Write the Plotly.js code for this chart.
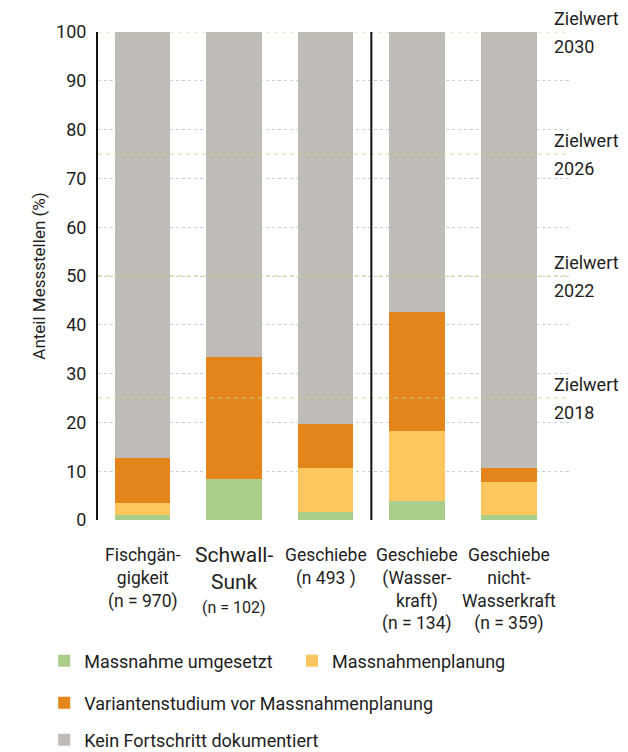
<!DOCTYPE html>
<html>
<head>
<meta charset="utf-8">
<script src="https://cdn.plot.ly/plotly-3.0.1.min.js"></script>
<style>html,body{margin:0;padding:0;background:#fff;}#chart{width:628px;height:752px;}</style>
</head>
<body>
<div id="chart"></div>
<script>
const categories = ["Fischgängigkeit", "Schwall-Sunk", "Geschiebe", "Geschiebe (Wasserkraft)", "Geschiebe nicht-Wasserkraft"];
const tickLabels = [
  "Fischgän-<br>gigkeit<br>(n = 970)",
  "Schwall-<br>Sunk",
  "Geschiebe<br>(n 493 )",
  "Geschiebe<br>(Wasser-<br>kraft)<br>(n = 134)",
  "Geschiebe<br>nicht-<br>Wasserkraft<br>(n = 359)"
];
const schwallCount = "(n = 102)";
const seriesNames = ["Massnahme umgesetzt", "Massnahmenplanung", "Variantenstudium vor Massnahmenplanung", "Kein Fortschritt dokumentiert"];
const umgesetzt = [1.1, 8.4, 1.6, 3.8, 1.1];
const planung = [2.3, 0, 9.1, 14.4, 6.7];
const variantenstudium = [9.3, 25.0, 8.9, 24.4, 2.9];
const keinFortschritt = [87.3, 66.6, 80.4, 57.4, 89.3];
const zielwerte = [100, 75, 50, 25];
const zielJahre = ["2030", "2026", "2022", "2018"];
const yTicks = [0, 10, 20, 30, 40, 50, 60, 70, 80, 90, 100];

const colors = ["#aacd8c", "#fdc65e", "#e3851a", "#bfbbb7"];
const seriesValues = [umgesetzt, planung, variantenstudium, keinFortschritt];
const legendIds = ["legend", "legend2", "legend3", "legend4"];
const FONT = "Roboto, 'Liberation Sans', sans-serif";
const TXT = "#1e1e1e";

const traces = seriesValues.map((vals, i) => ({
  type: "bar",
  x: categories,
  y: vals,
  name: seriesNames[i],
  marker: {color: colors[i], line: {width: 0}},
  legend: legendIds[i],
  hoverinfo: "skip"
}));

const shapes = zielwerte.map(v => ({
  type: "line", xref: "paper", yref: "y", x0: 0, x1: 1, y0: v, y1: v,
  line: {color: "rgba(200,212,140,0.95)", width: 1.2, dash: "4px,4px"},
  layer: "above"
}));
shapes.push({
  type: "line", xref: "x", yref: "y", x0: 2.5, x1: 2.5, y0: 0, y1: 100,
  line: {color: "#111", width: 2}, layer: "above"
});

const annotations = [];
zielwerte.forEach((v, i) => {
  annotations.push({xref: "paper", yref: "y", x: 0.962, y: v, xanchor: "left", yanchor: "middle",
    yshift: 14, text: "Zielwert", showarrow: false, font: {family: FONT, size: 18, color: TXT}});
  annotations.push({xref: "paper", yref: "y", x: 0.962, y: v, xanchor: "left", yanchor: "middle",
    yshift: -14, text: zielJahre[i], showarrow: false, font: {family: FONT, size: 18, color: TXT}});
});
categories.forEach((c, i) => {
  const big = i === 1;
  annotations.push({xref: "x", yref: "paper", x: c, y: 0, xanchor: "center", yanchor: "top",
    yshift: big ? -21 : -23, text: tickLabels[i], showarrow: false, align: "center",
    font: {family: FONT, size: big ? 21 : 17.5, color: TXT}});
});
annotations.push({xref: "x", yref: "paper", x: categories[1], y: 0, xanchor: "center", yanchor: "top",
  yshift: -76, text: schwallCount, showarrow: false, font: {family: FONT, size: 16, color: TXT}});

const legFont = {family: FONT, size: 18, color: TXT};
const legendBase = {orientation: "h", xanchor: "left", yanchor: "middle", font: legFont,
  bgcolor: "rgba(0,0,0,0)", borderwidth: 0, traceorder: "normal"};

const layout = {
  width: 628, height: 752,
  margin: {l: 98, r: 58, t: 32, b: 232, autoexpand: false},
  paper_bgcolor: "#fff", plot_bgcolor: "#fff",
  barmode: "stack", bargap: 0.39,
  font: {family: FONT, color: TXT},
  xaxis: {type: "category", range: [-0.487, 4.671], showticklabels: false, ticks: "",
    showgrid: false, zeroline: false, showline: false, fixedrange: true},
  yaxis: {range: [0, 100], tickvals: yTicks, ticks: "", showgrid: true, gridcolor: "#cdd0c8",
    griddash: "dot", gridwidth: 1, zeroline: false, showline: true, linecolor: "#111", linewidth: 2,
    tickfont: {family: FONT, size: 18, color: TXT}, ticklabelstandoff: 6,
    title: {text: "Anteil Messstellen (%)", font: {family: FONT, size: 17, color: TXT}, standoff: 6}},
  shapes: shapes,
  annotations: annotations,
  legend: Object.assign({}, legendBase, {x: -0.114, y: -0.289}),
  legend2: Object.assign({}, legendBase, {x: 0.411, y: -0.289}),
  legend3: Object.assign({}, legendBase, {x: -0.114, y: -0.375}),
  legend4: Object.assign({}, legendBase, {x: -0.114, y: -0.451}),
  showlegend: true
};

Plotly.newPlot("chart", traces, layout, {displayModeBar: false, staticPlot: true});
</script>
</body>
</html>
